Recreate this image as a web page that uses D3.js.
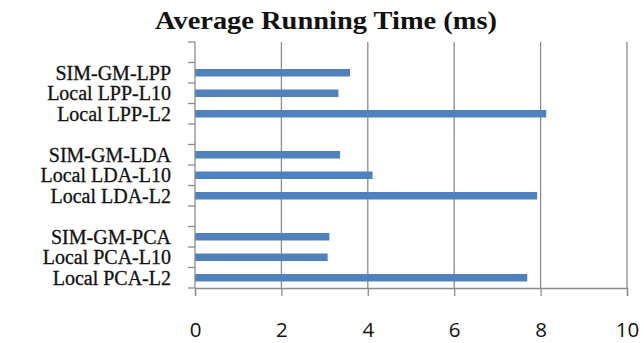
<!DOCTYPE html>
<html><head><meta charset="utf-8">
<script src="https://cdn.jsdelivr.net/npm/d3@7"></script>
<style>body{margin:0;background:#fff}svg{display:block}</style>
</head><body>
<svg id="c" width="644" height="343"></svg>
<script>
const categories = ["", "SIM-GM-LPP", "Local LPP-L10", "Local LPP-L2", " ", "SIM-GM-LDA", "Local LDA-L10", "Local LDA-L2", "  ", "SIM-GM-PCA", "Local PCA-L10", "Local PCA-L2"];
const values = [null, 3.59, 3.32, 8.13, null, 3.36, 4.11, 7.92, null, 3.11, 3.07, 7.69];
const xTicks = [0, 2, 4, 6, 8, 10];
const title = "Average Running Time (ms)";

(function () {
const svg = d3.select("#c");
const mL = 195, mR = 627, mT = 42, mB = 288;
const x = d3.scaleLinear().domain([0, 10]).range([mL, mR]);
const y = d3.scaleBand().domain(categories).range([mT, mB]);

// gridlines
svg.append("g").selectAll("line").data(xTicks.slice(1)).join("line")
  .attr("x1", d => x(d)).attr("x2", d => x(d)).attr("y1", mT).attr("y2", mB)
  .attr("stroke", "#8c8c8c").attr("stroke-width", 1.3);

// bars
const bh = 7.5;
svg.append("g").selectAll("rect").data(categories.map((c, i) => ({c, v: values[i]})).filter(d => d.v != null)).join("rect")
  .attr("x", x(0)).attr("width", d => x(d.v) - x(0))
  .attr("y", d => y(d.c) + y.bandwidth() / 2 - bh / 2).attr("height", bh)
  .attr("fill", "#4f81bd");

// x axis
const xa = svg.append("g").attr("transform", `translate(0,${mB})`)
  .call(d3.axisBottom(x).tickValues(xTicks).tickSize(8).tickPadding(26).tickFormat(d3.format("d")));
xa.select(".domain").attr("stroke", "#8c8c8c").attr("stroke-width", 1.3);
xa.selectAll(".tick line").attr("stroke", "#8c8c8c").attr("stroke-width", 1.3);
xa.selectAll(".tick text").attr("font-family", "'Open Sans', sans-serif").attr("font-size", 20.5).attr("fill", "#111");

// y axis
const boundaries = categories.map(c => y(c)).concat([mB]);
svg.append("line").attr("x1", mL).attr("x2", mL).attr("y1", mT).attr("y2", mB)
  .attr("stroke", "#8c8c8c").attr("stroke-width", 1.3);
svg.append("g").selectAll("line").data(boundaries).join("line")
  .attr("x1", mL - 7).attr("x2", mL).attr("y1", d => d).attr("y2", d => d)
  .attr("stroke", "#8c8c8c").attr("stroke-width", 1.3);
svg.append("g").selectAll("text").data(categories.filter(c => c.trim() !== "")).join("text")
  .attr("x", 171).attr("y", d => y(d) + y.bandwidth() / 2).attr("dy", "0.35em")
  .attr("text-anchor", "end").attr("font-family", "'Liberation Serif', serif").attr("font-size", 20)
  .attr("fill", "#111").attr("stroke", "#111").attr("stroke-width", 0.3).text(d => d);

// title
svg.append("text").attr("x", 326).attr("y", 29).attr("text-anchor", "middle")
  .attr("font-family", "'Liberation Serif', serif").attr("font-weight", "bold").attr("font-size", 25)
  .attr("textLength", 342).attr("lengthAdjust", "spacingAndGlyphs")
  .attr("fill", "#111").text(title);
})();
</script>
</body></html>
